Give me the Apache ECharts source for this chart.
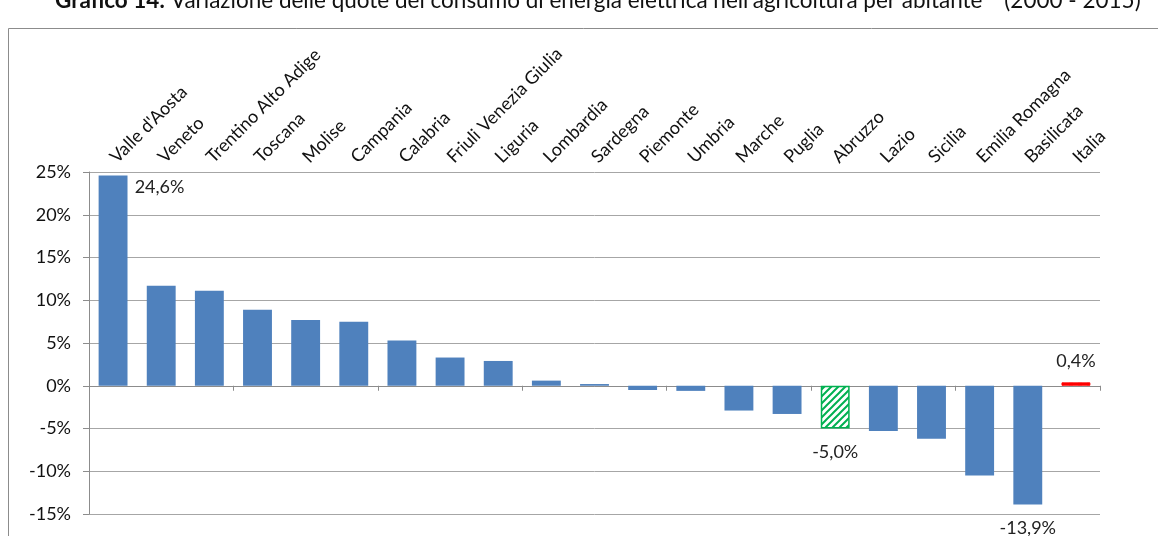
<!DOCTYPE html>
<html>
<head>
<meta charset="utf-8">
<script src="https://cdn.jsdelivr.net/npm/echarts@6/dist/echarts.min.js"></script>
<style>
  html, body { margin: 0; padding: 0; background: #fff; }
  #chart { width: 1158px; height: 536px; }
</style>
</head>
<body>
<div id="chart"></div>
<script>
const regions = ['Valle d\'Aosta', 'Veneto', 'Trentino Alto Adige', 'Toscana', 'Molise', 'Campania', 'Calabria',
  'Friuli Venezia Giulia', 'Liguria', 'Lombardia', 'Sardegna', 'Piemonte', 'Umbria', 'Marche', 'Puglia',
  'Abruzzo', 'Lazio', 'Sicilia', 'Emilia Romagna', 'Basilicata', 'Italia']
const variation = [24.6, 11.7, 11.1, 8.9, 7.7, 7.5, 5.3, 3.3, 2.9, 0.6, 0.2, -0.5, -0.6, -2.9, -3.3,
  -5.0, -5.3, -6.2, -10.5, -13.9, 0.4]
const yTicks = [-15, -10, -5, 0, 5, 10, 15, 20, 25]
const shownLabels = ['Valle d\'Aosta', 'Abruzzo', 'Basilicata', 'Italia']

const FONT = 'Lato'

// hatch patterns
function makePattern(draw, w, h) {
  const c = document.createElement('canvas')
  c.width = w; c.height = h
  draw(c.getContext('2d'))
  return { image: c, repeat: 'repeat' }
}
const greenHatch = makePattern(function (ctx) {
  ctx.fillStyle = '#fff'
  ctx.fillRect(0, 0, 7, 7)
  ctx.strokeStyle = '#00b050'
  ctx.lineWidth = 2
  ctx.beginPath()
  ctx.moveTo(-1, 8); ctx.lineTo(8, -1)
  ctx.moveTo(-4, 4); ctx.lineTo(4, -4)
  ctx.moveTo(3, 11); ctx.lineTo(11, 3)
  ctx.stroke()
}, 7, 7)
const redDash = makePattern(function (ctx) {
  ctx.fillStyle = '#ff0000'
  ctx.fillRect(0, 0, 9, 4)
  ctx.fillStyle = '#ffd0d0'
  ctx.fillRect(2, 1, 5, 2)
}, 9, 4)

function fmt(v) {
  return v.toFixed(1).replace('.', ',') + '%'
}

const barData = variation.map(function (v, i) {
  const name = regions[i]
  const item = { value: v }
  if (name === 'Abruzzo') {
    item.itemStyle = { color: greenHatch, borderColor: '#00b050', borderWidth: 1.5 }
  }
  if (name === 'Italia') {
    item.itemStyle = { color: redDash, borderColor: '#ff0000', borderWidth: 1 }
  }
  if (shownLabels.indexOf(name) >= 0) {
    const lab = { show: true, formatter: fmt(v), color: '#222', fontSize: 18, fontFamily: FONT }
    if (name === 'Valle d\'Aosta') {
      lab.position = [36, 3]
      lab.align = 'left'
      lab.verticalAlign = 'top'
    } else if (v < 0) {
      lab.position = 'bottom'
      lab.distance = 15
    } else {
      lab.position = 'top'
      lab.distance = 12
    }
    item.label = lab
  }
  return item
})

const chart = echarts.init(document.getElementById('chart'))
chart.setOption({
  animation: false,
  title: {
    text: '{b|Grafico 14:} Variazione delle quote del consumo di energia elettrica nell\'agricoltura per abitante \'  (2000 - 2015)',
    left: 50,
    top: -16,
    textStyle: {
      fontFamily: FONT,
      fontSize: 22.5,
      fontWeight: 'normal',
      color: '#111',
      rich: { b: { fontFamily: FONT, fontSize: 22.5, fontWeight: 'bold', color: '#111' } }
    }
  },
  graphic: [{
    type: 'rect',
    shape: { x: 8.5, y: 28.5, width: 1160, height: 520 },
    style: { fill: null, stroke: '#8c8c8c', lineWidth: 1 },
    silent: true
  }],
  grid: { left: 89, right: 58, top: 172, bottom: 22 },
  xAxis: [{
    type: 'category',
    data: regions,
    position: 'bottom',
    axisLine: { onZero: true, lineStyle: { color: '#8c8c8c', width: 1 } },
    axisTick: { show: true, length: 5, lineStyle: { color: '#8c8c8c' } },
    axisLabel: { show: false },
    splitLine: { show: false }
  }, {
    type: 'category',
    data: regions,
    position: 'top',
    axisLine: { show: false, onZero: false },
    axisTick: { show: false },
    axisLabel: {
      interval: 0,
      rotate: -45,
      margin: 12,
      fontFamily: FONT,
      fontSize: 18,
      color: '#111'
    }
  }],
  yAxis: {
    type: 'value',
    min: yTicks[0],
    max: yTicks[yTicks.length - 1],
    interval: 5,
    axisLine: { show: true, lineStyle: { color: '#8c8c8c' } },
    axisTick: { show: true, length: 6, lineStyle: { color: '#8c8c8c' } },
    axisLabel: { formatter: '{value}%', fontFamily: FONT, fontSize: 18, color: '#111', margin: 18 },
    splitLine: { lineStyle: { color: '#a6a6a6', width: 1 } }
  },
  series: [{
    type: 'bar',
    xAxisIndex: 0,
    data: barData,
    barWidth: '60%',
    itemStyle: { color: '#4f81bd' }
  }]
})
</script>
</body>
</html>
